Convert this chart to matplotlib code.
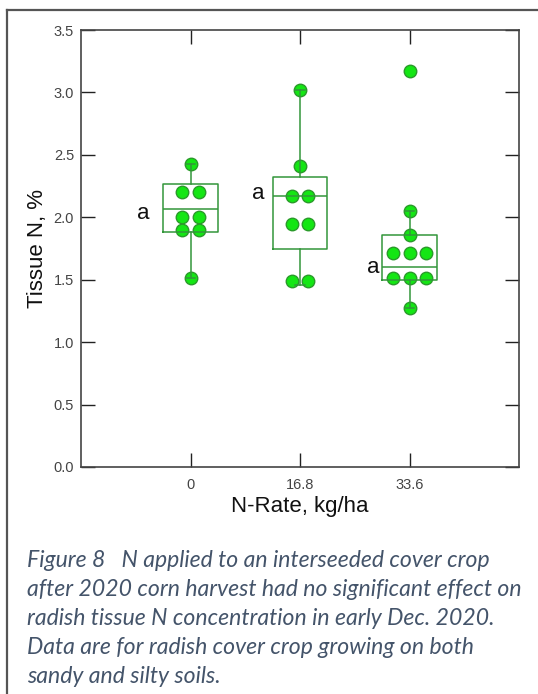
import matplotlib
matplotlib.use("Agg")
import matplotlib.pyplot as plt
from matplotlib.lines import Line2D

plt.rcParams["font.family"] = ["Liberation Sans", "DejaVu Sans"]

# N rates (kg/ha) and tissue N readings per rate
rates = [0, 16.8, 33.6]
rate_labels = ["0", "16.8", "33.6"]
tissue_0 = [2.43, 2.20, 2.20, 2.00, 2.00, 1.90, 1.90, 1.51]
tissue_168 = [3.02, 2.41, 2.17, 2.17, 1.95, 1.95, 1.49, 1.49]
tissue_336 = [3.17, 2.05, 1.86, 1.71, 1.71, 1.71, 1.51, 1.51, 1.51, 1.27]

# box stats as drawn in the original (SigmaPlot style)
q1 = [1.88, 1.745, 1.50]
med = [2.07, 2.17, 1.60]
q3 = [2.27, 2.32, 1.86]
whislo = [1.51, 1.46, 1.27]
whishi = [2.43, 3.02, 2.05]

letters = ["a", "a", "a"]
letter_y = [2.03, 2.19, 1.60]

caption = [
    "Figure 8   N applied to an interseeded cover crop",
    "after 2020 corn harvest had no significant effect on",
    "radish tissue N concentration in early Dec. 2020.",
    "Data are for radish cover crop growing on both",
    "sandy and silty soils.",
]

W, H = 538, 694
fig = plt.figure(figsize=(W / 100, H / 100), dpi=100)
ax = fig.add_axes([81 / W, 1 - 467 / H, (519 - 81) / W, (467 - 30) / H])

box_col = "#33963a"
dot_fill = "#14e614"
dot_edge = "#2a9a2a"
step = 16.8

stats = []
for i in range(3):
    stats.append({"q1": q1[i], "med": med[i], "q3": q3[i],
                  "whislo": whislo[i], "whishi": whishi[i], "fliers": []})
ax.bxp(stats, positions=rates, widths=0.5 * step, showfliers=False,
       boxprops=dict(color=box_col, lw=1.1),
       medianprops=dict(color=box_col, lw=1.1),
       whiskerprops=dict(color=box_col, lw=1.1),
       capprops=dict(color=box_col, lw=1.1),
       capwidths=0.09 * step, manage_ticks=False, zorder=4)

# spread equal values sideways like a dot plot
sp = 0.155 * step
for x, vals in zip(rates, [tissue_0, tissue_168, tissue_336]):
    seen = {}
    for v in vals:
        seen[v] = seen.get(v, 0) + 1
    for v, n in seen.items():
        xs = [x + (k - (n - 1) / 2) * sp for k in range(n)]
        ax.plot(xs, [v] * n, "o", ms=9, mfc=dot_fill, mec=dot_edge,
                mew=1.0, zorder=3, ls="none")

offs = [-0.43, -0.385, -0.33]
for x, t, y, o in zip(rates, letters, letter_y, offs):
    ax.text(x + o * step, y, t, fontsize=16, ha="center", va="center",
            color="#111111")

ax.set_xlim(-step, 50.4)
ax.set_ylim(0, 3.5)
ax.set_xticks(rates)
ax.set_xticklabels(rate_labels)
ax.set_yticks([0, 0.5, 1.0, 1.5, 2.0, 2.5, 3.0, 3.5])
ax.set_yticklabels(["0.0", "0.5", "1.0", "1.5", "2.0", "2.5", "3.0", "3.5"])
ax.tick_params(axis="both", direction="in", length=10, width=1.0,
               colors="#222222", labelcolor="#444444", labelsize=10.5)
ax.tick_params(axis="x", top=True, pad=8)
ax.tick_params(axis="y", right=True, pad=5)
for s in ax.spines.values():
    s.set_color("#444444")
    s.set_linewidth(1.2)

ax.set_xlabel("N-Rate, kg/ha", fontsize=16, color="#111111", labelpad=3)
ax.set_ylabel("Tissue N, %", fontsize=16, color="#111111", labelpad=4)

# outer frame (top and left only visible)
fig.add_artist(Line2D([7 / W, 1], [1 - 10 / H, 1 - 10 / H], color="#555555", lw=1.6))
fig.add_artist(Line2D([7 / W, 7 / W], [0, 1 - 10 / H], color="#555555", lw=1.6))

base = [567, 596, 625, 654, 683]
for line, yb in zip(caption, base):
    fig.text(27 / W, 1 - yb / H, line, fontsize=16.6, style="italic",
             family="Lato", color="#44546a", va="baseline", ha="left")

fig.savefig("out.png", dpi=100)
